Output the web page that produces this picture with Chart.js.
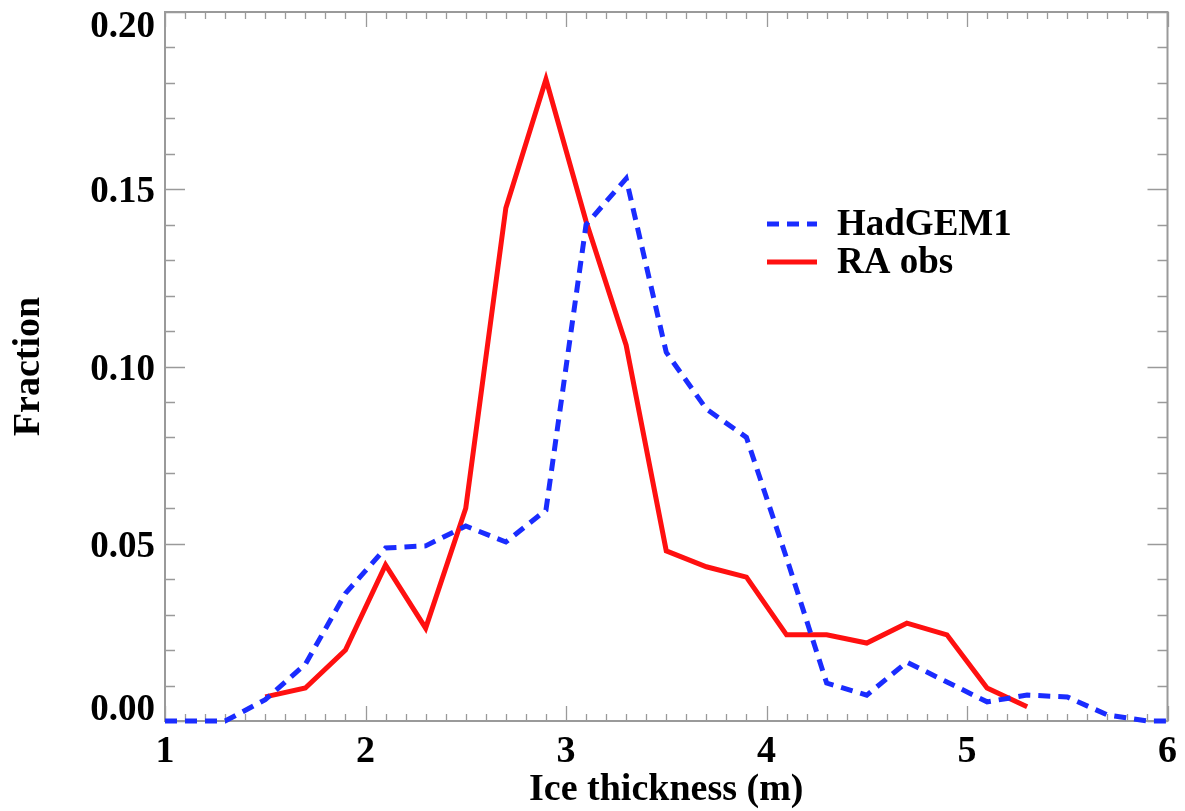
<!DOCTYPE html>
<html>
<head>
<meta charset="utf-8">
<script src="https://cdn.jsdelivr.net/npm/chart.js@4"></script>
<style>
  html, body { margin: 0; padding: 0; background: #fff; }
  #wrap { width: 1185px; height: 811px; }
</style>
</head>
<body>
<div id="wrap"><canvas id="iceChart" width="1185" height="811"></canvas></div>
<script>
// --- Data ---

// Ice thickness (m), bin centres
const xModel = [1.0, 1.1, 1.3, 1.5, 1.7, 1.9, 2.1, 2.3, 2.5, 2.7, 2.9, 3.1, 3.3, 3.5, 3.7, 3.9,
                4.1, 4.3, 4.5, 4.7, 4.9, 5.1, 5.3, 5.5, 5.7, 5.9, 6.0];
const hadgem1 = [0.0, 0.0, 0.0, 0.006, 0.016, 0.036, 0.0488, 0.0494, 0.055, 0.0505, 0.0595, 0.140, 0.153, 0.104, 0.088, 0.080,
                 0.046, 0.0107, 0.0073, 0.0166, 0.011, 0.0054, 0.0073, 0.0068, 0.0017, 0.0, 0.0];

const xObs = [1.5, 1.7, 1.9, 2.1, 2.3, 2.5, 2.7, 2.9, 3.1, 3.3, 3.5, 3.7, 3.9,
              4.1, 4.3, 4.5, 4.7, 4.9, 5.1, 5.3];
const raObs = [0.0068, 0.0093, 0.020, 0.044, 0.0262, 0.060, 0.1447, 0.181, 0.141, 0.106, 0.048, 0.0435, 0.0406,
               0.0243, 0.0243, 0.022, 0.0276, 0.0243, 0.0093, 0.004];

const seriesNames = ['HadGEM1', 'RA obs'];
const xTickLabels = ['1', '2', '3', '4', '5', '6'];
const yTickLabels = ['0.00', '0.05', '0.10', '0.15', '0.20'];

const FONT = 'bold 37px "Liberation Serif", "Times New Roman", serif';
const AXIS_GREY = '#9a9a9a';

// zip x and y into points
function toPoints(xs, ys) {
    return xs.map((x, i) => ({ x: x, y: ys[i] }));
}

// --- Plugins ---

// box around the plot with inward ticks on all four sides (IDL style)
const framePlugin = {
    id: 'frame',
    beforeDatasetsDraw(chart) {
        const { ctx, chartArea: a, scales: { x, y } } = chart;
        ctx.save();
        ctx.strokeStyle = AXIS_GREY;

        // minor + major ticks, x every 0.1
        ctx.lineWidth = 1.3;
        ctx.beginPath();
        for (let i = 10; i <= 60; i++) {
            const px = Math.round(x.getPixelForValue(i / 10)) + 0.5;
            const len = i % 10 === 0 ? 15 : 7;
            ctx.moveTo(px, a.bottom); ctx.lineTo(px, a.bottom - len);
            ctx.moveTo(px, a.top); ctx.lineTo(px, a.top + len);
        }
        // y every 0.01
        for (let j = 0; j <= 20; j++) {
            const py = Math.round(y.getPixelForValue(j / 100)) + 0.5;
            const len = j % 5 === 0 ? 20 : 10;
            ctx.moveTo(a.left, py); ctx.lineTo(a.left + len, py);
            ctx.moveTo(a.right, py); ctx.lineTo(a.right - len, py);
        }
        ctx.stroke();

        ctx.lineWidth = 2;
        ctx.strokeRect(a.left, a.top, a.right - a.left, a.bottom - a.top);
        ctx.restore();
    }
};

// y tick labels: IDL pulls the end labels inside the axis range
const yLabelPlugin = {
    id: 'yLabels',
    afterDraw(chart) {
        const { ctx, chartArea: a, scales: { y } } = chart;
        ctx.save();
        ctx.font = FONT;
        ctx.fillStyle = '#000';
        ctx.textAlign = 'right';
        ctx.textBaseline = 'alphabetic';
        yTickLabels.forEach(lbl => {
            const py = y.getPixelForValue(parseFloat(lbl));
            let base = py + 13;
            base = Math.max(base, a.top + 25);
            base = Math.min(base, a.bottom - 1);
            ctx.fillText(lbl, a.left - 10, base);
        });
        ctx.restore();
    }
};

// legend drawn inside the plot, upper right
const legendPlugin = {
    id: 'innerLegend',
    afterDraw(chart) {
        const { ctx } = chart;
        const x0 = 767, x1 = 817, textX = 837;
        const rows = [224, 262];
        ctx.save();
        chart.data.datasets.forEach((ds, i) => {
            ctx.beginPath();
            ctx.strokeStyle = ds.borderColor;
            ctx.lineWidth = ds.borderWidth;
            ctx.setLineDash(ds.borderDash || []);
            ctx.moveTo(x0, rows[i]); ctx.lineTo(x1, rows[i]);
            ctx.stroke();
            ctx.setLineDash([]);
            ctx.font = FONT;
            ctx.fillStyle = '#000';
            ctx.textAlign = 'left';
            ctx.textBaseline = 'middle';
            ctx.fillText(ds.label, textX, rows[i] + 1);
        });
        ctx.restore();
    }
};

// --- Chart ---

const ctx = document.getElementById('iceChart').getContext('2d');
const chart = new Chart(ctx, {
    type: 'scatter',
    data: {
        datasets: [{
            label: seriesNames[0],
            data: toPoints(xModel, hadgem1),
            showLine: true,
            borderColor: '#1a2cff',
            borderWidth: 5,
            borderDash: [12, 8],
            borderCapStyle: 'butt',
            pointRadius: 0,
            tension: 0,
            clip: false
        }, {
            label: seriesNames[1],
            data: toPoints(xObs, raObs),
            showLine: true,
            borderColor: '#ff1010',
            borderWidth: 5,
            borderJoinStyle: 'miter',
            pointRadius: 0,
            tension: 0,
            clip: false
        }]
    },
    options: {
        responsive: false,
        animation: false,
        layout: { padding: { top: 12, right: 17, left: 0, bottom: 0 } },
        plugins: {
            legend: { display: false },
            tooltip: { enabled: false }
        },
        scales: {
            x: {
                type: 'linear',
                min: 1, max: 6,
                grid: { display: false, drawTicks: false },
                border: { display: false },
                ticks: {
                    stepSize: 1,
                    padding: 8,
                    color: '#000',
                    font: { family: '"Liberation Serif", serif', size: 38, weight: 'bold' },
                    callback: (v) => xTickLabels[v - 1]
                },
                title: {
                    display: true,
                    text: 'Ice thickness (m)',
                    color: '#000',
                    font: { family: '"Liberation Serif", serif', size: 38, weight: 'bold', lineHeight: 1.1 },
                    padding: { top: 0, bottom: 0 }
                },
                afterFit: (s) => { s.height = 90; }
            },
            y: {
                min: 0, max: 0.2,
                grid: { display: false, drawTicks: false },
                border: { display: false },
                ticks: { display: false, stepSize: 0.05 },
                title: {
                    display: true,
                    text: 'Fraction',
                    color: '#000',
                    font: { family: '"Liberation Serif", serif', size: 38, weight: 'bold', lineHeight: 1.1 },
                    padding: { top: 8, bottom: 0 }
                },
                afterFit: (s) => { s.width = 165; }
            }
        }
    },
    plugins: [framePlugin, yLabelPlugin, legendPlugin]
});
</script>
</body>
</html>
